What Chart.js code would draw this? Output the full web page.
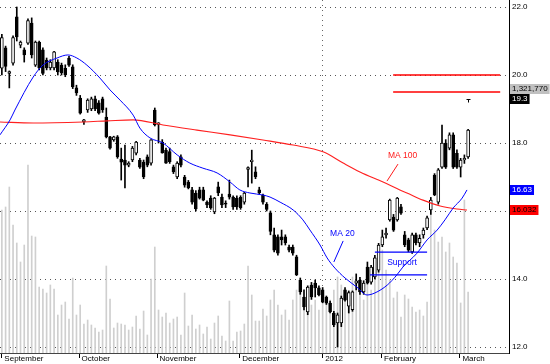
<!DOCTYPE html>
<html>
<head>
<meta charset="utf-8">
<script src="https://cdn.jsdelivr.net/npm/chart.js@4.4.1/dist/chart.umd.min.js"></script>
<style>
  html, body { margin: 0; padding: 0; background: #fff; }
  #wrap { width: 550px; height: 364px; }
</style>
</head>
<body>
<div id="wrap"><canvas id="priceChart"></canvas></div>
<script>
// Daily candles, Sep 2011 - Mar 2012: [open, high, low, close]
const ohlc = [
  [20.2, 21.2, 20.0, 21.1], [20.8, 20.85, 20.1, 20.25], [20.05, 20.12, 19.62, 20.1], [20.35, 21.15, 20.29, 21.1],
  [21.71, 22.0, 21.0, 21.12], [20.88, 21.0, 20.8, 20.97], [20.74, 20.8, 20.38, 20.59], [20.94, 21.65, 20.9, 21.6],
  [21.53, 21.68, 20.5, 20.59], [20.29, 21.0, 20.25, 20.97], [20.97, 21.0, 20.15, 20.21], [20.74, 20.8, 20.0, 20.05],
  [20.44, 20.5, 20.15, 20.21], [20.21, 20.45, 20.15, 20.38], [20.21, 20.7, 20.15, 20.68], [20.38, 20.45, 20.0, 20.09],
  [20.29, 20.35, 20.0, 20.06], [20.2, 20.3, 19.95, 20.0], [20.5, 20.55, 20.25, 20.29], [20.24, 20.3, 19.6, 19.65],
  [19.62, 19.7, 19.4, 19.47], [19.32, 19.4, 18.85, 18.88], [18.62, 18.7, 18.55, 18.68], [18.97, 19.3, 18.9, 19.26],
  [19.0, 19.35, 18.95, 19.3], [19.3, 19.38, 18.95, 19.0], [19.18, 19.25, 18.85, 18.88], [19.3, 19.35, 18.9, 18.97],
  [18.76, 19.03, 18.15, 18.18], [18.18, 18.2, 17.82, 17.85], [18.09, 18.2, 18.05, 18.18], [18.18, 18.22, 17.55, 17.59],
  [17.53, 17.85, 16.91, 17.44], [17.5, 17.94, 16.68, 17.35], [17.35, 17.45, 17.3, 17.41], [17.5, 17.9, 17.45, 17.85],
  [17.7, 18.05, 17.65, 18.03], [17.5, 17.55, 17.25, 17.29], [17.44, 17.5, 16.95, 17.0], [17.59, 17.65, 17.3, 17.35],
  [17.41, 18.1, 17.35, 18.09], [18.97, 19.03, 18.5, 18.53], [18.55, 18.6, 18.0, 18.59], [18.03, 18.1, 17.7, 17.71],
  [17.79, 17.85, 17.4, 17.41], [17.75, 17.85, 17.4, 17.45], [17.3, 17.35, 17.1, 17.15], [17.0, 17.45, 16.95, 17.41],
  [17.59, 17.65, 17.3, 17.35], [17.0, 17.05, 16.7, 16.76], [16.85, 16.9, 16.65, 16.68], [16.62, 16.7, 16.2, 16.26],
  [16.53, 16.6, 16.0, 16.06], [16.62, 16.7, 16.35, 16.38], [16.62, 16.7, 16.3, 16.32], [16.26, 16.3, 16.1, 16.18],
  [16.38, 16.45, 16.05, 16.09], [15.97, 16.4, 15.92, 16.38], [16.71, 16.85, 16.45, 16.53], [16.41, 16.5, 16.1, 16.18],
  [16.23, 16.3, 16.1, 16.2], [16.5, 16.91, 16.35, 16.41], [16.41, 16.45, 16.05, 16.12], [16.38, 16.45, 16.05, 16.12],
  [16.4, 16.45, 16.05, 16.1], [16.26, 16.55, 16.2, 16.53], [17.22, 17.3, 16.71, 17.28], [17.45, 17.79, 16.82, 17.5],
  [17.15, 17.3, 16.95, 17.0], [16.62, 16.7, 16.5, 16.53], [16.47, 16.5, 16.2, 16.26], [16.2, 16.25, 16.0, 16.05],
  [15.95, 16.0, 15.3, 15.4], [15.3, 15.5, 14.8, 14.85], [15.24, 15.3, 14.7, 14.76], [15.24, 15.44, 15.0, 15.15],
  [15.24, 15.3, 15.0, 15.06], [14.94, 15.0, 14.8, 14.85], [14.94, 15.0, 14.7, 14.76], [14.65, 14.7, 14.1, 14.12],
  [13.97, 14.03, 13.55, 13.62], [13.47, 13.68, 13.09, 13.18], [13.03, 13.8, 12.95, 13.76], [13.82, 13.9, 13.4, 13.47],
  [13.88, 13.97, 13.47, 13.74], [13.74, 13.8, 13.5, 13.53], [13.68, 13.75, 13.3, 13.32], [13.47, 13.5, 13.25, 13.29],
  [13.29, 13.35, 13.0, 13.03], [13.0, 13.05, 12.6, 12.65], [12.71, 13.0, 12.0, 12.95], [12.71, 13.5, 12.6, 13.44],
  [13.68, 13.75, 13.35, 13.38], [13.2, 13.65, 13.0, 13.6], [13.1, 13.65, 13.05, 13.62], [13.88, 14.15, 13.68, 13.95],
  [13.97, 14.05, 13.55, 13.62], [13.62, 13.95, 13.55, 13.88], [14.35, 14.5, 13.85, 13.88], [13.91, 14.4, 13.85, 14.35],
  [14.06, 14.7, 14.0, 14.62], [14.26, 15.05, 14.2, 15.0], [15.0, 15.44, 14.95, 15.24], [15.3, 15.5, 15.2, 15.35],
  [15.74, 16.35, 15.7, 16.32], [15.82, 15.9, 15.4, 15.44], [15.74, 16.4, 15.7, 16.38], [16.12, 16.2, 15.9, 15.94],
  [15.3, 15.4, 14.95, 15.0], [15.15, 15.2, 14.8, 14.85], [14.8, 15.35, 14.75, 15.3], [15.3, 15.35, 15.0, 15.06],
  [15.06, 15.3, 14.95, 15.2], [15.3, 15.5, 15.2, 15.44], [15.5, 15.85, 15.45, 15.8], [16.03, 16.4, 15.9, 16.32],
  [17.06, 17.1, 16.45, 16.47], [16.26, 17.25, 16.2, 17.21], [17.29, 18.53, 17.25, 18.0], [18.0, 18.1, 17.25, 17.29],
  [17.85, 18.3, 17.8, 18.24], [18.24, 18.3, 17.25, 17.29], [17.7, 17.8, 17.25, 17.29], [17.29, 17.55, 17.0, 17.5],
  [17.5, 17.65, 17.4, 17.55], [17.59, 18.4, 17.55, 18.38],
];

// Daily volume, shares
const volumes = [
  3099000, 3164000, 3597000, 2774000, 2384000, 1972000, 2340000, 4074000, 2535000, 2514000,
  1430000, 1387000, 1300000, 1474000, 1387000, 823000, 1040000, 1105000, 737000, 1625000,
  823000, 1040000, 628000, 715000, 607000, 542000, 455000, 498000, 1885000, 1170000,
  542000, 650000, 628000, 607000, 498000, 563000, 802000, 520000, 910000, 390000,
  1604000, 2297000, 932000, 780000, 867000, 650000, 737000, 780000, 390000, 1300000,
  585000, 823000, 520000, 607000, 412000, 563000, 303000, 650000, 802000, 368000,
  260000, 1127000, 260000, 455000, 477000, 628000, 1885000, 1257000, 693000, 693000,
  953000, 802000, 1149000, 1365000, 1040000, 823000, 932000, 715000, 1149000, 1365000,
  1474000, 1149000, 1365000, 1040000, 1149000, 932000, 1257000, 1040000, 1149000, 1365000,
  1647000, 1474000, 1149000, 1257000, 1647000, 1582000, 1365000, 1149000, 1474000, 1365000,
  1799000, 2015000, 2232000, 1799000, 1582000, 1192000, 1322000, 780000, 1257000, 1170000,
  997000, 888000, 932000, 802000, 1105000, 3099000, 2665000, 2405000, 2514000, 2189000,
  2384000, 2080000, 1950000, 1084000, 3316000, 1321770,
];

// Moving averages: [day index, price]
const ma20Points = [
  [-0.5, 18.24], [2.2, 18.68], [3.5, 18.97], [8.4, 19.94], [11.0, 20.29], [14.8, 20.5], [17.7, 20.59],
  [20.1, 20.5], [22.8, 20.29], [26.3, 19.91], [29.0, 19.56], [31.7, 19.26], [35.2, 18.82], [37.0, 18.44],
  [39.7, 18.15], [43.2, 18.0], [47.0, 17.65], [50.4, 17.41], [53.9, 17.26], [57.7, 17.12], [61.2, 16.85],
  [63.8, 16.62], [66.5, 16.53], [70.0, 16.47], [71.9, 16.41], [74.6, 16.26], [78.1, 16.03], [80.7, 15.74],
  [82.6, 15.44], [85.3, 15.0], [87.2, 14.62], [89.3, 14.32], [92.0, 14.03], [95.2, 13.76], [97.9, 13.53],
  [100.0, 13.59], [103.3, 13.82], [105.9, 14.12], [107.5, 14.35], [111.3, 14.76], [114.0, 15.15],
  [116.7, 15.44], [118.8, 15.74], [121.0, 16.09], [123.4, 16.38], [124.7, 16.62],
];
const ma100Points = [
  [-0.5, 18.62], [8.4, 18.59], [21.8, 18.62], [28.2, 18.65], [35.2, 18.68], [43.2, 18.53], [52.3, 18.38],
  [61.2, 18.24], [70.0, 18.09], [78.1, 17.94], [86.1, 17.74], [91.5, 17.41], [96.0, 17.15], [102.2, 16.85],
  [106.7, 16.62], [108.6, 16.53], [112.9, 16.32], [117.5, 16.15], [122.0, 16.06], [124.7, 16.03],
];

// Axis ticks
const monthTicks = [0, 20.7, 41.6, 63.8, 86, 101.8, 122.8];
const monthLabels = ["September", "October", "November", "December", "2012", "February", "March"];
const yearTick = 86;
const priceTicks = [12, 14, 16, 18, 20, 22];

// Levels and right-edge value tags
const resistanceLevels = [20.0, 19.5];
const supportLevels = [14.79, 14.12];
const lastVolumeText = "1,321,770";
const valueTags = [
  { value: 19.3, text: "19.3", bg: "#000000", fg: "#ffffff" },
  { value: 16.63, text: "16.63", bg: "#0000ff", fg: "#ffffff" },
  { value: 16.032, text: "16.032", bg: "#ff0000", fg: "#000000" },
];

const FONT = '"Liberation Sans", Arial, sans-serif';

(function () {
  "use strict";

  const X_MIN = -0.4987;
  const X_MAX = 135.96;
  const Y_MIN = 11.824;
  const Y_MAX = 22.206;
  const VOL_MAX = 7650000;

  function line(ctx, x1, y1, x2, y2) {
    ctx.beginPath();
    ctx.moveTo(x1, y1);
    ctx.lineTo(x2, y2);
    ctx.stroke();
  }

  /** Draws the support box, levels, labels and the value tags on the right axis. */
  const annotations = {
    id: "annotations",
    afterDraw(chart) {
      const { ctx, chartArea } = chart;
      const x = chart.scales.x;
      const y = chart.scales.y;
      const px = (v) => x.getPixelForValue(v);
      const py = (v) => y.getPixelForValue(v);

      ctx.save();
      ctx.lineCap = "butt";

      // resistance lines
      ctx.strokeStyle = "#ff0000";
      ctx.lineWidth = 1.4;
      resistanceLevels.forEach((lvl) => line(ctx, px(104.9), py(lvl), px(133.6), py(lvl)));

      // support box
      ctx.strokeStyle = "#0000ff";
      ctx.lineWidth = 1.3;
      supportLevels.forEach((lvl, i) => line(ctx, px(i === 0 ? 100.0 : 98.7), py(lvl), px(114.0), py(lvl)));

      ctx.lineWidth = 1;
      ctx.font = `8.5px ${FONT}`;
      ctx.textBaseline = "middle";
      ctx.textAlign = "left";
      ctx.fillStyle = "#0000ff";
      ctx.fillText("Support", px(103.3), py(14.47));

      // MA 20 label
      ctx.fillText("MA 20", px(88.0), py(15.32));
      line(ctx, px(91.5), py(15.12), px(89.0), py(14.5));

      // MA 100 label
      ctx.fillStyle = "#ff1a1a";
      ctx.strokeStyle = "#ff1a1a";
      ctx.fillText("MA 100", px(103.5), py(17.62));
      line(ctx, px(106.2), py(17.38), px(103.25), py(16.88));

      // small marker above the last bar
      ctx.strokeStyle = "#000";
      const mx = Math.round(px(125)) + 0.5;
      const my = Math.round(py(19.28)) + 0.5;
      line(ctx, mx - 2, my, mx + 2, my);
      line(ctx, mx, my, mx, my + 3);

      // value tags on the right axis
      ctx.font = `8px ${FONT}`;
      const left = chartArea.right + 1;
      const tag = (cy, text, bg, fg) => {
        const w = ctx.measureText(text).width + 4;
        ctx.fillStyle = bg;
        ctx.fillRect(left, Math.round(cy - 5), w, 10);
        ctx.fillStyle = fg;
        ctx.fillText(text, left + 2, cy);
      };
      const top = py(valueTags[0].value);
      tag(top - 10, lastVolumeText, "#c0c0c0", "#000");
      valueTags.forEach((t) => tag(py(t.value), t.text, t.bg, t.fg));

      ctx.restore();
    },
  };

  function renderChart() {
    const canvas = document.getElementById("priceChart");

    const wicks = ohlc.map(([o, h, l, c], i) => ({ x: i, y: [l, h] }));
    const bodies = ohlc.map(([o, h, l, c], i) => ({ x: i, y: [Math.min(o, c), Math.max(o, c)] }));
    const bodyColors = ohlc.map(([o, h, l, c]) => (c >= o ? "#ffffff" : "#000000"));

    new Chart(canvas, {
      type: "bar",
      data: {
        datasets: [
          {
            type: "line",
            label: "MA 20",
            data: ma20Points.map(([x, y]) => ({ x, y })),
            borderColor: "#0000ff",
            borderWidth: 1,
            pointRadius: 0,
            cubicInterpolationMode: "monotone",
            order: 0,
          },
          {
            type: "line",
            label: "MA 100",
            data: ma100Points.map(([x, y]) => ({ x, y })),
            borderColor: "#ff2020",
            borderWidth: 1.1,
            pointRadius: 0,
            cubicInterpolationMode: "monotone",
            order: 0,
          },
          {
            label: "Body",
            data: bodies,
            backgroundColor: bodyColors,
            borderColor: "#000000",
            borderWidth: 1,
            borderSkipped: false,
            barThickness: 3,
            grouped: false,
            order: 1,
          },
          {
            label: "Wick",
            data: wicks,
            backgroundColor: "#000000",
            barThickness: 1,
            grouped: false,
            order: 2,
          },
          {
            label: "Volume",
            data: volumes.map((v, i) => ({ x: i, y: v })),
            yAxisID: "vol",
            backgroundColor: "#cfcfcf",
            barThickness: 1,
            grouped: false,
            order: 3,
          },
        ],
      },
      options: {
        responsive: true,
        maintainAspectRatio: false,
        animation: false,
        devicePixelRatio: 1,
        events: [],
        layout: { padding: 0 },
        plugins: { legend: { display: false }, tooltip: { enabled: false } },
        scales: {
          x: {
            type: "linear",
            min: X_MIN,
            max: X_MAX,
            offset: false,
            afterBuildTicks: (s) => { s.ticks = monthTicks.map((v) => ({ value: v })); },
            afterFit: (s) => { s.height = 11; s.paddingLeft = 0; s.paddingRight = 0; },
            grid: {
              offset: false,
              color: (c) => (c.tick && c.tick.value === yearTick ? "#666" : "rgba(0,0,0,0)"),
              tickColor: "#000",
              tickLength: 5,
              tickBorderDash: [],
            },
            border: { display: true, color: "#444", width: 1, dash: [1, 4] },
            ticks: {
              autoSkip: false,
              maxRotation: 0,
              align: "start",
              labelOffset: 2.5,
              padding: -3,
              color: "#000",
              font: { family: FONT, size: 8, lineHeight: 1 },
              callback: (v, i) => monthLabels[i],
            },
          },
          y: {
            position: "right",
            min: Y_MIN,
            max: Y_MAX,
            afterBuildTicks: (s) => { s.ticks = priceTicks.map((v) => ({ value: v })); },
            afterFit: (s) => { s.width = 41; s.paddingTop = 0; s.paddingBottom = 0; },
            grid: { color: "#555", drawTicks: false },
            border: { display: true, color: "#000", width: 1, dash: [1, 4] },
            ticks: {
              padding: 3,
              color: "#000",
              font: { family: FONT, size: 8 },
              callback: (v) => Number(v).toFixed(1),
            },
          },
          vol: { display: false, min: 0, max: VOL_MAX },
        },
      },
      plugins: [annotations],
    });
  }

  renderChart();
})();
</script>
</body>
</html>
